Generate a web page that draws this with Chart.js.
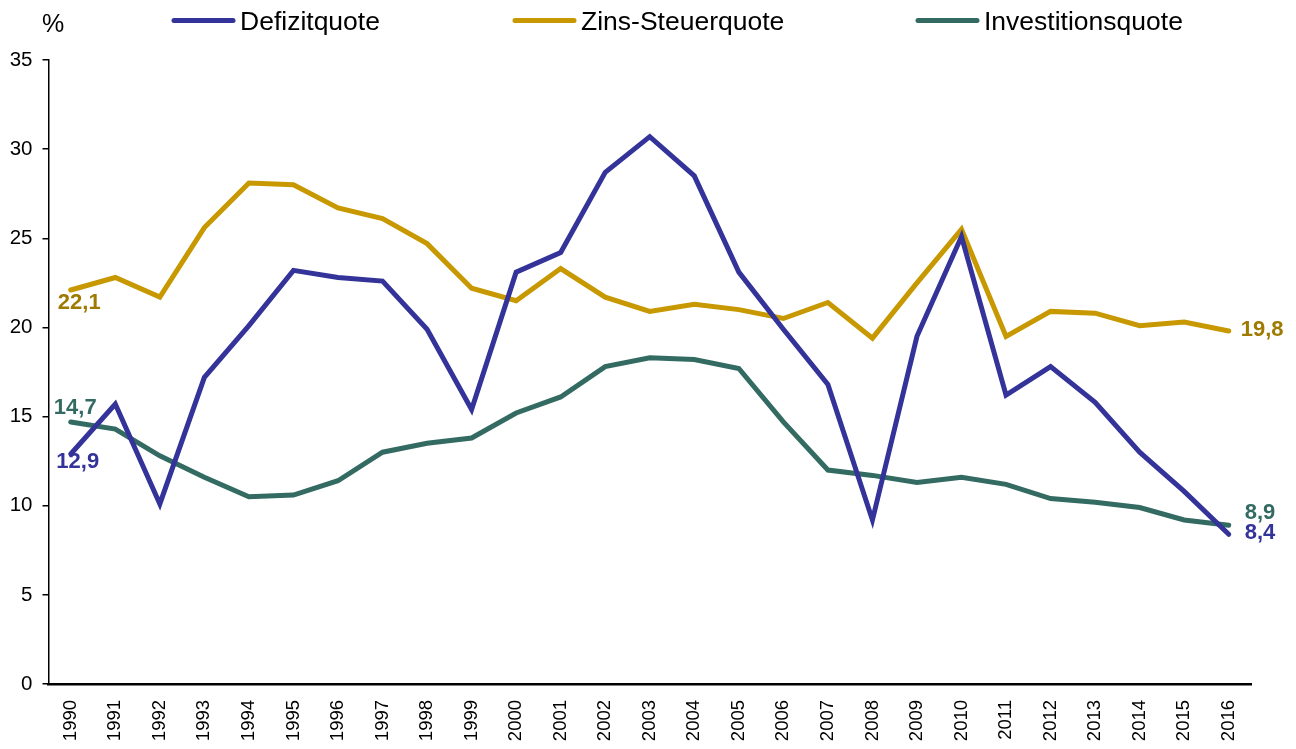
<!DOCTYPE html>
<html>
<head>
<meta charset="utf-8">
<script src="https://cdn.jsdelivr.net/npm/chart.js@4.4.1/dist/chart.umd.min.js"></script>
<style>
html, body { margin: 0; padding: 0; background: #fff; }
canvas { display: block; }
</style>
</head>
<body>
<canvas id="chart" width="1296" height="749"></canvas>
<script>
// ---- data ----
const years = ['1990','1991','1992','1993','1994','1995','1996','1997','1998','1999',
               '2000','2001','2002','2003','2004','2005','2006','2007','2008','2009',
               '2010','2011','2012','2013','2014','2015','2016'];

const defizitquote = [12.9, 15.7, 10.1, 17.2, 20.1, 23.2, 22.8, 22.6, 19.9, 15.4,
                      23.1, 24.2, 28.7, 30.7, 28.5, 23.1, 19.9, 16.8, 9.2, 19.5,
                      25.1, 16.2, 17.8, 15.8, 13.0, 10.8, 8.4];

const zinsSteuerquote = [22.1, 22.8, 21.7, 25.6, 28.1, 28.0, 26.7, 26.1, 24.7, 22.2,
                         21.5, 23.3, 21.7, 20.9, 21.3, 21.0, 20.5, 21.4, 19.4, 22.5,
                         25.5, 19.5, 20.9, 20.8, 20.1, 20.3, 19.8];

const investitionsquote = [14.7, 14.3, 12.8, 11.6, 10.5, 10.6, 11.4, 13.0, 13.5, 13.8,
                           15.2, 16.1, 17.8, 18.3, 18.2, 17.7, 14.7, 12.0, 11.7, 11.3,
                           11.6, 11.2, 10.4, 10.2, 9.9, 9.2, 8.9];

const yMin = 0;
const yMax = 35;
const yStep = 5;

const FONT = '"Liberation Sans", Arial, Helvetica, sans-serif';
const BLUE = '#333399';
const GOLD = '#C89800';
const GOLD_TEXT = '#9E7B00';
const TEAL = '#336B63';

// legend at the top, drawn by hand (line marker + text)
const legendPlugin = {
    id: 'topLegend',
    afterDraw(chart) {
        const ctx = chart.ctx;
        ctx.save();
        ctx.font = '25px ' + FONT;
        ctx.fillStyle = '#000';
        ctx.textBaseline = 'alphabetic';
        ctx.fillText('%', 42, 32);

        const items = [
            { text: 'Defizitquote', color: BLUE, x: 174 },
            { text: 'Zins-Steuerquote', color: GOLD, x: 515 },
            { text: 'Investitionsquote', color: TEAL, x: 918 }
        ];
        items.forEach(it => {
            ctx.strokeStyle = it.color;
            ctx.lineWidth = 5;
            ctx.lineCap = 'round';
            ctx.beginPath();
            ctx.moveTo(it.x, 20.5);
            ctx.lineTo(it.x + 59, 20.5);
            ctx.stroke();
            ctx.font = '26.5px ' + FONT;
            ctx.fillStyle = '#000';
            ctx.fillText(it.text, it.x + 66, 30);
        });
        ctx.restore();
    }
};

// first / last value labels
const endLabelPlugin = {
    id: 'endLabels',
    afterDatasetsDraw(chart) {
        const ctx = chart.ctx;
        const spots = [
            { ds: 0, first: { dx: 7, dy: 8 },    last: { dx: 16, dy: -1 },  color: BLUE },
            { ds: 1, first: { dx: 8.5, dy: 12.5 }, last: { dx: 12, dy: -1 }, color: GOLD_TEXT },
            { ds: 2, first: { dx: 4.5, dy: -13.5 }, last: { dx: 16, dy: -12 }, color: TEAL }
        ];
        ctx.save();
        ctx.font = 'bold 22px ' + FONT;
        ctx.textBaseline = 'middle';
        spots.forEach(s => {
            const meta = chart.getDatasetMeta(s.ds);
            const vals = chart.data.datasets[s.ds].data;
            const fmt = v => v.toFixed(1).replace('.', ',');
            const p0 = meta.data[0];
            const pN = meta.data[meta.data.length - 1];
            ctx.fillStyle = s.color;
            ctx.textAlign = 'center';
            ctx.fillText(fmt(vals[0]), p0.x + s.first.dx, p0.y + s.first.dy);
            ctx.textAlign = 'left';
            ctx.fillText(fmt(vals[vals.length - 1]), pN.x + s.last.dx, pN.y + s.last.dy);
        });
        ctx.restore();
    }
};

const lineStyle = { borderWidth: 5, pointRadius: 0, pointHoverRadius: 0, tension: 0, fill: false, borderCapStyle: 'round', borderJoinStyle: 'miter' };

new Chart(document.getElementById('chart').getContext('2d'), {
    type: 'line',
    data: {
        labels: years,
        datasets: [
            { label: 'Defizitquote', data: defizitquote, borderColor: BLUE, backgroundColor: BLUE, ...lineStyle },
            { label: 'Zins-Steuerquote', data: zinsSteuerquote, borderColor: GOLD, backgroundColor: GOLD, ...lineStyle },
            { label: 'Investitionsquote', data: investitionsquote, borderColor: TEAL, backgroundColor: TEAL, ...lineStyle }
        ]
    },
    options: {
        responsive: false,
        animation: false,
        layout: { padding: { left: 0, right: 45, top: 60, bottom: 0 } },
        plugins: {
            legend: { display: false },
            tooltip: { enabled: false }
        },
        scales: {
            x: {
                offset: true,
                grid: { display: false, drawTicks: false },
                border: { display: true, color: '#000', width: 2.5 },
                ticks: { color: '#000', font: { family: FONT, size: 18.5 }, maxRotation: 90, minRotation: 90, autoSkip: false, padding: 16 },
                afterFit(scale) { scale.height = 65; }
            },
            y: {
                min: yMin,
                max: yMax,
                grid: { drawOnChartArea: false, drawTicks: true, tickLength: 6, color: '#000', lineWidth: 1.5 },
                border: { display: true, color: '#000', width: 1.5 },
                ticks: { stepSize: yStep, color: '#000', font: { family: FONT, size: 20.5 }, padding: 10 },
                afterFit(scale) { scale.width = 48.5; }
            }
        }
    },
    plugins: [legendPlugin, endLabelPlugin]
});
</script>
</body>
</html>
